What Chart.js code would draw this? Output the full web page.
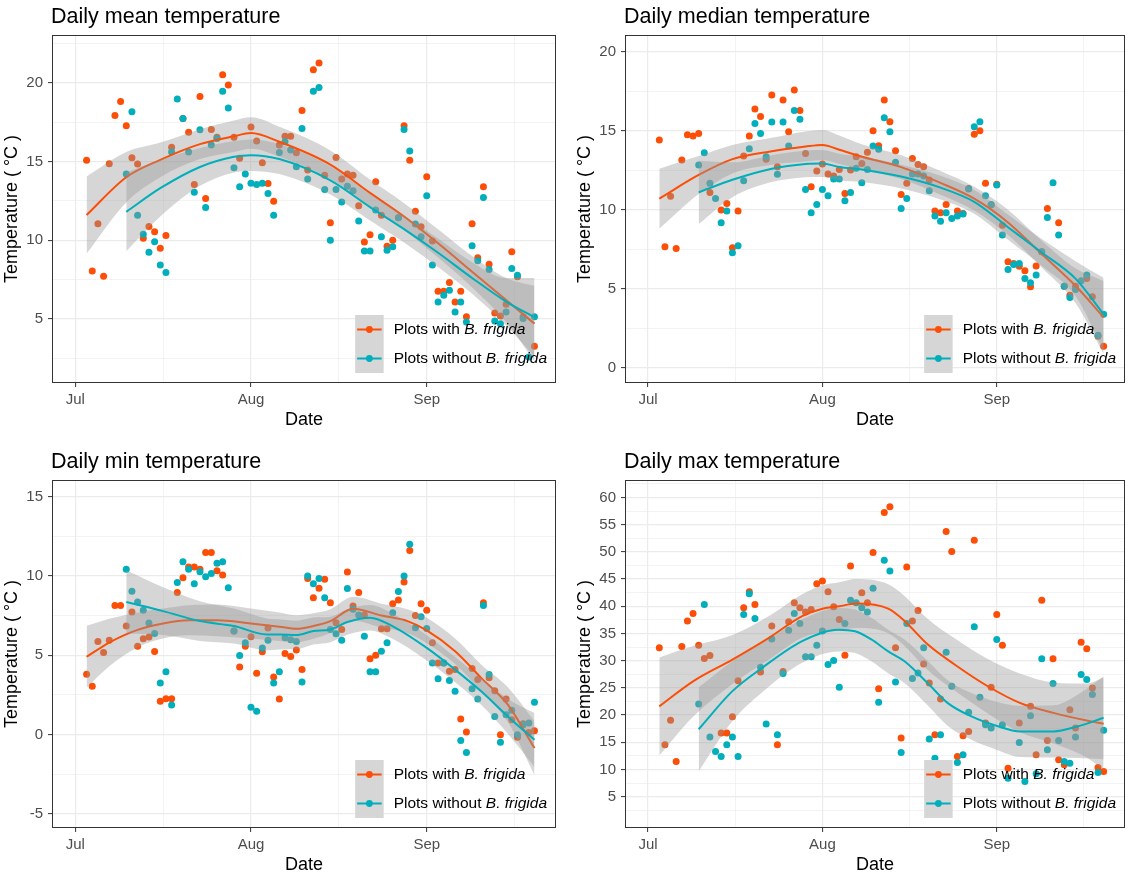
<!DOCTYPE html>
<html lang="en">
<head>
<meta charset="utf-8">
<title>Daily temperature</title>
<script src="https://cdn.jsdelivr.net/npm/chart.js@4.4.1/dist/chart.umd.min.js"></script>
<style>
  html, body { margin: 0; padding: 0; background: #fff; }
  body { position: relative; width: 1129px; height: 877px; overflow: hidden; }
  canvas { position: absolute; }
</style>
</head>
<body>
<canvas id="mean" width="564" height="440" style="left:0;top:0"></canvas>
<canvas id="median" width="556" height="440" style="left:573px;top:0"></canvas>
<canvas id="min" width="564" height="440" style="left:0;top:445px"></canvas>
<canvas id="max" width="556" height="440" style="left:573px;top:445px"></canvas>
<script>
Chart.defaults.font.family = "'Liberation Sans', Arial, sans-serif";

const WITH_COLOR = "#FC4E07";
const WITHOUT_COLOR = "#00AFBB";
const RIBBON_FILL = "rgba(153, 153, 153, 0.4)";

// x axis in days counted from 1 July
const monthDays = [0, 31, 62];
const monthLabels = ["Jul", "Aug", "Sep"];
const midMonthDays = [15.5, 46.5, 77.5];

// one reading per day, starting at these days (null = no reading)
const firstDayWith = 2;
const firstDayWithout = 9;

const meanWith = [
  15.08, 8.05, 11.04, 7.71, 14.85, 17.92, 18.81, 17.27, 15.23, 14.83,
  10.13, 10.87, 10.53, 9.49, 10.3, 15.9, null, 17.73, 16.86, 13.54,
  19.13, 12.65, 17.03, 16.53, 20.51, 19.85, 16.53, 15.2, null, 17.18,
  16.3, 14.92, 13.6, 12.48, 16.04, 16.6, 16.6, 15.55, 18.24, 14.45,
  20.83, 21.25, 14.13, 11.1, 15.25, 13.88, 14.2, 14.13, 12.18, 9.89,
  10.34, 13.71, 11.59, 9.62, 10.0, 11.42, 17.27, 15.08, 11.84, 10.85,
  14.03, 9.94, 6.76, 6.76, 7.31, 6.08, 6.76, 5.13, 11.04, 8.88,
  13.39, 8.47, 5.38, 5.19, 5.93, 9.26, 7.67, 5.13, null, 3.26
];
const meanWithout = [
  14.2, 18.16, 11.59, 10.38, 9.24, 9.9, 8.43, 7.94, 15.6, 18.96,
  17.73, 15.6, 13.05, 17.01, 12.08, 16.04, 16.46, 19.45, 18.39, 14.6,
  13.39, 14.2, 13.62, 13.54, 13.62, 12.97, 11.59, 15.57, 16.25, 15.72,
  14.66, 17.1, 13.88, 19.45, 19.7, 13.22, 10.0, 13.22, 12.42, 13.43,
  13.14, 11.21, 9.32, 9.32, 11.91, 10.21, 9.36, 9.58, 11.42, 17.03,
  15.66, 11.02, 10.21, 12.82, 8.43, 6.08, 6.5, 6.82, 5.44, 6.08,
  4.81, 9.64, 8.69, 12.71, 8.14, 4.87, 4.70, 5.44, 8.2, 7.78,
  5.02, 2.58, 5.13
];

const medianWith = [
  14.41, 7.66, 10.86, 7.55, 13.14, 14.75, 14.66, 14.83, null, 11.1,
  null, 9.98, 10.4, 7.6, 9.92, 13.4, 14.66, 16.37, 15.89, 13.2,
  17.26, 12.72, 16.94, 14.94, 17.57, 16.27, 13.56, 11.46, 12.45, 12.89,
  12.26, 12.13, 12.55, 11.03, 12.51, 13.35, 12.93, 13.63, 15.0, 14.05,
  16.94, 15.57, 13.73, 10.97, 11.67, 13.25, 12.87, 12.72, 11.88, 9.92,
  9.81, 10.34, null, 9.92, 9.77, 11.35, 14.77, 15.0, 11.67, 10.3,
  11.62, 9.03, 6.71, 6.6, 6.43, 6.14, 5.13, 6.45, 7.34, 10.08,
  null, 9.18, 5.17, 4.6, 5.17, null, 5.65, 4.5, 2.0, 1.37
];
const medianWithout = [
  12.83, 13.6, 11.67, 10.72, 9.18, 9.92, 7.28, 7.72, 11.84, 13.86,
  15.46, 14.83, 13.35, 15.55, 12.24, 15.55, 14.03, 16.27, 15.72, 11.29,
  9.81, 10.34, 11.29, 10.89, 11.94, 11.94, 10.57, 11.1, 12.62, 11.71,
  12.55, 14.03, 13.82, 15.82, 14.94, 13.0, 10.08, 10.72, 12.26, 12.26,
  12.13, 11.2, 9.6, 9.28, 9.81, 9.45, 9.6, 9.73, 11.31, 15.25,
  15.57, 10.89, 10.34, 11.56, 8.4, 6.22, 6.54, 6.6, 5.65, 5.38,
  5.87, 7.34, 9.51, 11.71, 8.4, 5.17, 4.45, 4.96, 5.51, 5.87,
  null, 2.07, 3.4
];

const minWith = [
  3.8, 3.04, 5.86, 5.17, 5.95, 8.14, 8.14, 6.84, 7.72, 5.57,
  6.03, 6.14, 5.23, 2.09, 2.26, 2.26, 8.95, 9.89, 10.57, 10.57,
  10.42, 11.48, 11.48, 10.32, 10.06, null, 6.52, 4.26, 5.57, 6.16,
  3.86, 5.21, 6.71, 3.63, 2.24, 5.1, 4.92, 5.32, 4.09, 9.83,
  8.63, 9.22, 9.79, 8.31, 7.05, 6.62, 10.25, 8.1, 8.95, 7.53,
  4.77, 5.0, 6.67, 6.67, 8.25, 8.48, 9.62, 11.6, 7.51, 8.25,
  7.83, 5.78, 4.51, 4.51, 3.99, 4.09, 0.97, 0.15, 4.16, 3.46,
  8.31, 3.57, 2.76, -0.02, 2.24, 0.93, -0.17, 0.68, 0.13, 0.23
];
const minWithout = [
  10.42, 9.03, 8.35, 7.83, 7.03, 6.37, 3.25, 3.95, 1.86, 9.58,
  10.89, 10.42, 9.51, 10.27, 9.94, 10.15, 10.8, 10.89, 9.26, 6.52,
  4.98, 5.78, 1.71, 1.46, 5.46, 5.95, 3.25, 3.95, 6.1, 5.97,
  5.87, 3.31, 10.0, 9.51, 9.83, 8.63, 6.62, 6.35, 5.95, 9.2,
  7.89, 7.53, 6.2, 3.95, 3.95, 5.25, 5.78, 7.68, 9.01, 10.0,
  12.0, 6.73, 7.43, 6.69, 4.51, 3.52, 4.51, 3.4, 2.72, -0.38,
  -1.14, 2.89, 2.24, 8.14, 3.78, 1.14, -0.49, 1.24, 1.52, -0.02,
  0.61, 0.72, 2.03
];

const maxWith = [
  32.36, 14.55, 19.03, 11.47, 32.6, 37.27, 38.69, 32.85, 30.39, 30.95,
  null, 16.7, 16.7, 19.7, 26.3, 39.73, 42.68, 40.34, 27.9, null,
  36.35, 14.55, 28.0, 37.15, 40.65, 39.73, 38.93, 39.42, 44.15, 44.64,
  42.68, 39.91, 37.58, 31.01, 47.41, null, 42.5, 40.65, 49.86, 24.86,
  57.24, 58.28, 32.36, 15.77, 47.22, 37.27, 39.24, 29.41, 25.91, 16.39,
  22.96, 53.73, 50.05, 12.4, 16.2, 17.0, 52.14, null, 18.54, 25.11,
  38.5, 32.85, 10.25, null, 18.54, null, 21.61, 12.7, 41.08, 15.34,
  30.33, 11.78, 10.86, 20.99, 17.61, 33.4, 32.17, 24.99, 10.37, 9.63
];
const maxWithout = [
  22.04, 40.34, 15.96, 13.32, 12.4, 14.55, 15.96, 12.4, 38.5, 42.31,
  37.76, 28.8, 18.35, 34.0, 16.39, 27.63, 35.61, 38.69, 36.84, 30.7,
  30.7, 32.85, 35.43, 29.29, 30.02, 25.11, 36.84, 41.08, 40.65, 39.73,
  38.93, 43.29, 22.35, 48.45, 46.49, 26.09, 13.13, 36.84, 26.71, 27.75,
  32.36, 15.59, 12.09, 16.39, 31.56, 25.3, 11.29, 12.7, 20.5, 36.23,
  23.27, 18.23, 17.61, 33.89, 18.23, 8.4, null, 14.97, 7.79, 19.89,
  9.2, 30.33, 13.62, 25.79, 15.34, 11.47, 11.17, 15.96, 27.44, 26.52,
  23.76, 9.45, 17.19
];

// loess fits: days, fitted value, half width of the 95% band
const meanFitDaysWith = [2, 9, 15, 22, 28, 31, 36, 45, 52, 58, 64, 70, 76, 81];
const meanFitWith = [11.6, 14.0, 15.1, 16.1, 16.6, 16.8, 16.25, 14.8, 13.0, 11.5, 9.8, 8.0, 6.2, 4.7];
const meanCiWith = [2.45, 1.6, 1.1, 0.95, 1.0, 1.0, 0.95, 0.9, 0.85, 0.85, 0.9, 1.0, 1.4, 2.4];
const meanFitDaysWithout = [9, 15, 22, 28, 31, 36, 45, 52, 58, 64, 70, 76, 81];
const meanFitWithout = [11.8, 13.3, 14.65, 15.3, 15.4, 15.15, 13.8, 12.1, 10.7, 9.2, 7.6, 6.1, 5.1];
const meanCiWithout = [2.5, 1.8, 1.2, 1.0, 1.0, 0.95, 0.9, 0.85, 0.85, 0.9, 1.0, 1.5, 2.5];

const medianFitDaysWith = [2, 9, 15, 22, 28, 31, 34, 38, 45, 52, 58, 64, 70, 76, 81];
const medianFitWith = [10.7, 12.2, 13.2, 13.7, 14.0, 14.1, 13.8, 13.35, 12.7, 11.7, 10.7, 9.2, 7.2, 5.2, 3.2];
const medianCiWith = [1.9, 1.2, 0.9, 0.85, 0.95, 0.95, 0.9, 0.8, 0.75, 0.75, 0.75, 0.8, 0.85, 1.1, 2.3];
const medianFitDaysWithout = [9, 15, 22, 28, 31, 34, 38, 45, 52, 58, 64, 70, 76, 81];
const medianFitWithout = [11.1, 11.9, 12.6, 12.9, 12.93, 12.7, 12.55, 12.1, 11.4, 10.5, 8.9, 7.3, 5.65, 3.4];
const medianCiWithout = [2.0, 1.1, 0.85, 0.85, 0.85, 0.85, 0.8, 0.75, 0.75, 0.75, 0.8, 0.85, 1.1, 2.3];

const minFitDaysWith = [2, 6, 11, 15.5, 20, 25, 31, 36, 39, 42, 45, 49, 54, 58.6, 62, 67, 71.6, 76.3, 81];
const minFitWith = [4.9, 5.8, 6.6, 7.0, 7.2, 7.2, 7.0, 6.8, 6.67, 6.84, 7.15, 7.93, 7.5, 7.15, 6.56, 5.25, 3.57, 1.88, -0.86];
const minCiWith = [1.95, 1.5, 1.1, 0.95, 0.95, 1.0, 0.95, 0.9, 0.85, 0.8, 0.75, 0.75, 0.75, 0.75, 0.8, 0.8, 0.85, 1.1, 1.7];
const minFitDaysWithout = [9, 15.5, 22, 28, 33.8, 36, 39, 42, 45, 48, 52, 55.7, 62, 67, 71.6, 76.3, 81];
const minFitWithout = [8.35, 7.78, 7.15, 6.84, 6.31, 6.31, 6.27, 6.52, 6.62, 7.09, 7.36, 6.88, 5.46, 4.09, 2.72, 1.14, -0.34];
const minCiWithout = [2.0, 1.5, 1.25, 1.1, 1.0, 0.95, 0.9, 0.85, 0.8, 0.8, 0.8, 0.8, 0.8, 0.8, 0.85, 1.1, 1.7];

const maxFitDaysWith = [2, 8, 15, 21.5, 27.4, 31, 34, 37, 42.7, 45.6, 49.7, 54.5, 60.4, 66.2, 72.1, 78, 81];
const maxFitWith = [21.6, 26.2, 30.2, 34.2, 38.2, 39.55, 40.0, 40.5, 39.55, 37.3, 33.0, 29.3, 25.3, 22.2, 20.4, 19.0, 18.4];
const maxCiWith = [9.0, 6.5, 4.5, 4.0, 4.0, 4.3, 4.4, 4.5, 4.5, 4.6, 4.7, 4.8, 5.0, 5.4, 5.6, 6.8, 8.5];
const maxFitDaysWithout = [9, 15, 20.3, 27.4, 33.8, 36.8, 39.7, 42.7, 45.6, 49.7, 53.3, 57.4, 61.9, 66.2, 72.1, 76.3, 81];
const maxFitWithout = [17.4, 24.4, 28.7, 33.6, 35.7, 35.4, 33.9, 31.7, 29.9, 25.9, 22.2, 19.8, 18.05, 17.0, 17.0, 17.9, 19.5];
const maxCiWithout = [7.7, 5.5, 4.5, 4.0, 4.0, 4.0, 4.0, 4.0, 4.0, 4.1, 4.2, 4.3, 4.4, 4.7, 4.8, 5.8, 7.6];

const legendItems = [
  { text: "Plots with ", species: "B. frigida", color: WITH_COLOR },
  { text: "Plots without ", species: "B. frigida", color: WITHOUT_COLOR }
];

function toPoints(firstDay, values) {
  const pts = [];
  values.forEach((v, i) => {
    if (v !== null) pts.push({ x: firstDay + i, y: v });
  });
  return pts;
}

function curve(days, fit, ci, sign) {
  return days.map((d, i) => ({ x: d, y: fit[i] + sign * (ci ? ci[i] : 0) }));
}

// panel frame, title and the legend inside the panel
const ggDecor = {
  id: "ggDecor",
  afterDraw(chart, args, opts) {
    const { ctx, chartArea: a } = chart;
    ctx.save();
    ctx.strokeStyle = "#333333";
    ctx.lineWidth = 1;
    ctx.strokeRect(a.left + 0.5, a.top + 0.5, a.width - 1, a.height - 1);

    ctx.fillStyle = "#000";
    ctx.textBaseline = "alphabetic";
    ctx.font = "21.5px 'Liberation Sans', Arial, sans-serif";
    ctx.fillText(opts.title, a.left - 1, a.top - 12.5);

    const plain = "15.5px 'Liberation Sans', Arial, sans-serif";
    const italic = "italic " + plain;
    const widths = legendItems.map((it) => {
      ctx.font = plain;
      const w = ctx.measureText(it.text).width;
      ctx.font = italic;
      return w + ctx.measureText(it.species).width;
    });
    const keyW = 28.5, keyH = 29;
    const textLeft = a.right - 9 - Math.max(...widths);
    const keyLeft = textLeft - 10 - keyW;
    const keyTop = a.bottom - 10 - 2 * keyH;
    ctx.fillStyle = "#D6D6D6";
    ctx.fillRect(keyLeft, keyTop, keyW, 2 * keyH);
    legendItems.forEach((it, i) => {
      const cy = keyTop + keyH * (i + 0.5);
      ctx.strokeStyle = it.color;
      ctx.lineWidth = 2;
      ctx.beginPath();
      ctx.moveTo(keyLeft + 2, cy);
      ctx.lineTo(keyLeft + keyW - 2, cy);
      ctx.stroke();
      ctx.fillStyle = it.color;
      ctx.beginPath();
      ctx.arc(keyLeft + keyW / 2, cy, 3.4, 0, Math.PI * 2);
      ctx.fill();
      ctx.fillStyle = "#000";
      ctx.textBaseline = "middle";
      ctx.font = plain;
      ctx.fillText(it.text, textLeft, cy);
      const w = ctx.measureText(it.text).width;
      ctx.font = italic;
      ctx.fillText(it.species, textLeft + w, cy);
    });
    ctx.restore();
  }
};

function drawPanel(id, p) {
  const step = p.yBreaks[1] - p.yBreaks[0];
  const yGrid = [];
  for (let v = p.yBreaks[0] - step / 2; v <= p.yRange[1]; v += step / 2) {
    if (v >= p.yRange[0]) yGrid.push(v);
  }
  const xGrid = [...monthDays, ...midMonthDays].sort((a, b) => a - b);

  const lineBase = {
    type: "line",
    pointRadius: 0,
    cubicInterpolationMode: "monotone",
    borderColor: "transparent",
    borderWidth: 0,
    fill: false
  };
  const [dW, fW, cW] = p.fitWith;
  const [dO, fO, cO] = p.fitWithout;

  const datasets = [
    {
      label: "Plots with B. frigida",
      data: toPoints(firstDayWith, p.with),
      pointRadius: 3.5,
      pointBackgroundColor: WITH_COLOR,
      pointBorderWidth: 0,
      order: 8
    },
    {
      label: "Plots without B. frigida",
      data: toPoints(firstDayWithout, p.without),
      pointRadius: 3.5,
      pointBackgroundColor: WITHOUT_COLOR,
      pointBorderWidth: 0,
      order: 7
    },
    { ...lineBase, data: curve(dW, fW, cW, 1), fill: "+1", backgroundColor: RIBBON_FILL, order: 6 },
    { ...lineBase, data: curve(dW, fW, cW, -1), order: 6 },
    { ...lineBase, data: curve(dW, fW, null, 0), borderColor: WITH_COLOR, borderWidth: 2, order: 5 },
    { ...lineBase, data: curve(dO, fO, cO, 1), fill: "+1", backgroundColor: RIBBON_FILL, order: 4 },
    { ...lineBase, data: curve(dO, fO, cO, -1), order: 4 },
    { ...lineBase, data: curve(dO, fO, null, 0), borderColor: WITHOUT_COLOR, borderWidth: 2, order: 3 }
  ];

  return new Chart(document.getElementById(id), {
    type: "scatter",
    data: { datasets },
    options: {
      responsive: false,
      animation: false,
      events: [],
      layout: { padding: { top: 35, right: p.padRight, left: 0, bottom: 0 } },
      plugins: {
        legend: { display: false },
        tooltip: { enabled: false },
        ggDecor: { title: p.title }
      },
      scales: {
        x: {
          type: "linear",
          min: -4.1,
          max: 84.8,
          afterBuildTicks: (s) => { s.ticks = xGrid.map((v) => ({ value: v })); },
          afterFit: (s) => { s.height = 57; },
          border: { display: false },
          grid: {
            color: "#EBEBEB",
            lineWidth: (c) => (monthDays.includes(c.tick && c.tick.value) ? 1.2 : 0.6),
            tickLength: 4,
            tickWidth: 1,
            tickColor: (c) => (monthDays.includes(c.tick && c.tick.value) ? "#333333" : "rgba(0,0,0,0)")
          },
          ticks: {
            autoSkip: false,
            maxRotation: 0,
            padding: 4,
            color: "#4D4D4D",
            font: { size: 15 },
            callback: (v) => {
              const i = monthDays.indexOf(v);
              return i >= 0 ? monthLabels[i] : "";
            }
          },
          title: {
            display: true,
            text: "Date",
            color: "#000",
            font: { size: 18 },
            padding: { top: 0, bottom: 9 }
          }
        },
        y: {
          min: p.yRange[0],
          max: p.yRange[1],
          afterBuildTicks: (s) => { s.ticks = yGrid.map((v) => ({ value: v })); },
          afterFit: (s) => { s.width = 52; },
          border: { display: false },
          grid: {
            color: "#EBEBEB",
            lineWidth: (c) => (p.yBreaks.includes(c.tick && c.tick.value) ? 1.2 : 0.6),
            tickLength: 4,
            tickWidth: 1,
            tickColor: (c) => (p.yBreaks.includes(c.tick && c.tick.value) ? "#333333" : "rgba(0,0,0,0)")
          },
          ticks: {
            autoSkip: false,
            padding: 5,
            color: "#4D4D4D",
            font: { size: 15 },
            callback: (v) => (p.yBreaks.includes(v) ? String(v) : "")
          },
          title: {
            display: true,
            text: "Temperature ( °C )",
            color: "#000",
            font: { size: 18 },
            padding: { top: 1, bottom: 0 }
          }
        }
      }
    },
    plugins: [ggDecor]
  });
}

drawPanel("mean", {
  title: "Daily mean temperature",
  yRange: [0.93, 23.03],
  yBreaks: [5, 10, 15, 20],
  with: meanWith,
  without: meanWithout,
  fitWith: [meanFitDaysWith, meanFitWith, meanCiWith],
  fitWithout: [meanFitDaysWithout, meanFitWithout, meanCiWithout],
  padRight: 8
});

drawPanel("median", {
  title: "Daily median temperature",
  yRange: [-0.95, 21.05],
  yBreaks: [0, 5, 10, 15, 20],
  with: medianWith,
  without: medianWithout,
  fitWith: [medianFitDaysWith, medianFitWith, medianCiWith],
  fitWithout: [medianFitDaysWithout, medianFitWithout, medianCiWithout],
  padRight: 2
});

drawPanel("min", {
  title: "Daily min temperature",
  yRange: [-5.9, 16.05],
  yBreaks: [-5, 0, 5, 10, 15],
  with: minWith,
  without: minWithout,
  fitWith: [minFitDaysWith, minFitWith, minCiWith],
  fitWithout: [minFitDaysWithout, minFitWithout, minCiWithout],
  padRight: 8
});

drawPanel("max", {
  title: "Daily max temperature",
  yRange: [-0.75, 63.2],
  yBreaks: [5, 10, 15, 20, 25, 30, 35, 40, 45, 50, 55, 60],
  with: maxWith,
  without: maxWithout,
  fitWith: [maxFitDaysWith, maxFitWith, maxCiWith],
  fitWithout: [maxFitDaysWithout, maxFitWithout, maxCiWithout],
  padRight: 2
});
</script>
</body>
</html>
